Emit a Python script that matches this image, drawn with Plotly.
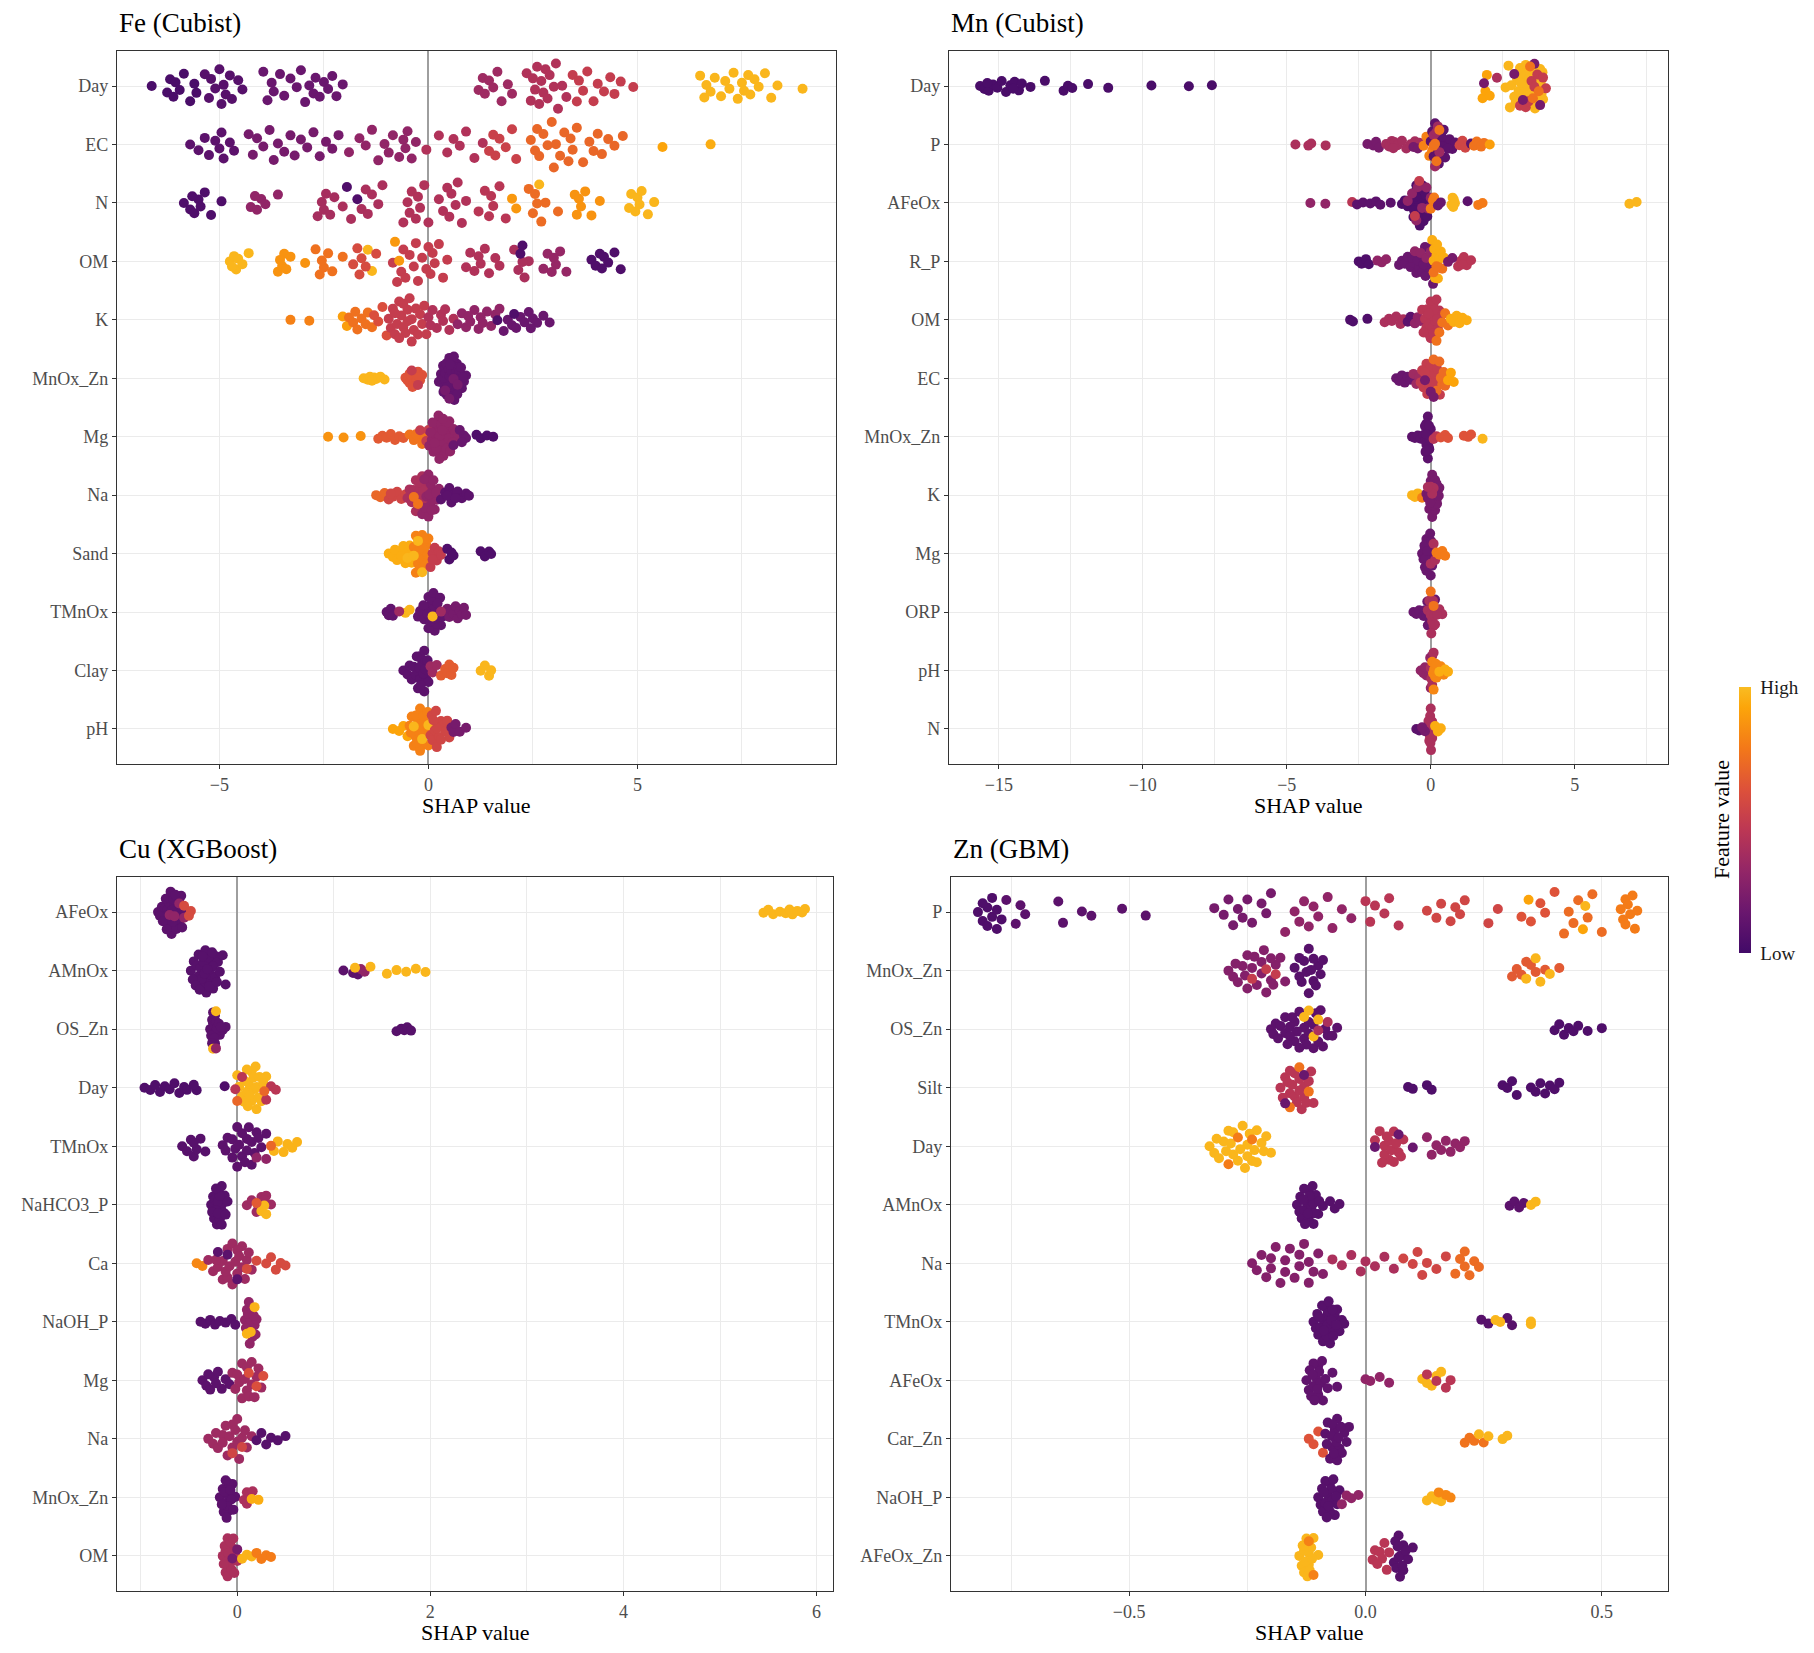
import numpy as np
import plotly.graph_objects as go

FONT = "Liberation Serif"

# SHAP values, grouped by feature value (0 = low, 1 = high)

fe_rows = {
    "Day": [
        (0.03, [-6.62, -6.25, -6.18, -6.05, -5.95, -6.1, -5.85, -5.7, -5.55, -5.6]),
        (0.08, [-5.35, -5.25, -5.1, -5.0, -4.95, -4.85, -4.75, -4.7, -4.55, -4.45, -4.9, -5.2]),
        (0.15, [-3.95, -3.85, -3.75, -3.55, -3.45, -3.7, -3.3, -3.05, -2.95, -2.85, -2.75, -2.6,
                -2.5, -2.4, -2.3, -2.2, -2.05, -2.7, -3.15]),
        (0.35, [1.2, 1.3, 1.35, 1.45, 1.55, 1.65, 1.75, 1.9, 2.0]),
        (0.42, [2.35, 2.45, 2.55, 2.6, 2.65, 2.7, 2.75, 2.8, 2.9, 3.0, 3.05, 3.1, 3.2, 2.5, 2.85, 3.3]),
        (0.5, [3.45, 3.55, 3.6, 3.7, 3.8, 3.95, 4.05, 4.2, 4.35, 4.45, 4.6, 4.9]),
        (0.98, [6.5, 6.6, 6.65, 6.75, 6.85, 7.0, 7.1, 7.2, 7.3, 7.4, 7.5, 7.55, 7.65, 7.8, 7.9,
                8.05, 8.2, 8.35, 8.95, 7.7]),
    ],
    "EC": [
        (0.1, [-5.7, -5.5, -5.35, -5.25, -5.1, -4.95, -4.9, -4.75, -4.65, -5.0]),
        (0.2, [-4.3, -4.1, -3.95, -3.8, -3.6, -3.45, -3.3, -3.2, -3.05, -2.9, -2.75, -2.6, -2.45,
               -2.3, -2.15, -3.7, -4.2]),
        (0.3, [-1.9, -1.65, -1.5, -1.35, -1.2, -0.95, -0.85, -0.7, -0.6, -0.5, -0.4, -0.3, -1.05, -0.55]),
        (0.42, [-0.05, 0.25, 0.45, 0.75, 0.9, 1.1, 1.3, 0.6]),
        (0.52, [1.45, 1.6, 1.7, 1.85, 2.0, 2.1, 1.55]),
        (0.7, [2.45, 2.55, 2.65, 2.75, 2.85, 2.95, 3.05, 3.15, 3.25, 3.35, 3.45, 3.55, 3.7, 3.85,
               3.95, 4.05, 4.15, 4.3, 4.45, 4.65, 2.6, 3.0, 3.4]),
        (0.92, [5.6]),
        (0.95, [6.75]),
    ],
    "N": [
        (0.05, [-5.85, -5.7, -5.6, -5.5, -5.45, -5.35, -5.2, -4.95, -5.65]),
        (0.3, [-4.25, -4.1, -4.0, -3.9, -3.6, -4.15]),
        (0.38, [-2.65, -2.55, -2.5, -2.45, -2.35, -2.25]),
        (0.05, [-1.95, -1.7]),
        (0.4, [-2.05, -1.85, -1.6, -1.5, -1.35, -1.2, -1.1, -1.45]),
        (0.42, [-0.6, -0.5, -0.4, -0.3, -0.2, -0.1, 0.0, -0.45, -0.25,
                0.25, 0.35, 0.45, 0.55, 0.65, 0.8, 0.9, 0.5, 0.7]),
        (0.45, [1.2, 1.35, 1.45, 1.55, 1.7, 1.85, 1.5]),
        (0.88, [2.0, 2.1]),
        (0.72, [2.4, 2.5, 2.55, 2.6, 2.7, 2.8]),
        (0.98, [2.65]),
        (0.72, [3.1]),
        (0.86, [3.5, 3.6, 3.65, 3.75, 3.9, 4.1, 3.55]),
        (0.98, [4.8, 4.85, 4.95, 5.0, 5.1, 5.25, 5.4, 5.05]),
    ],
    "OM": [
        (0.98, [-4.75, -4.65, -4.6, -4.55, -4.45, -4.3, -4.7]),
        (0.86, [-3.6, -3.5, -3.45, -3.4, -3.3, -2.95, -3.55]),
        (0.74, [-2.7, -2.6, -2.5, -2.4, -2.3, -2.05, -2.55]),
        (0.98, [-1.45, -1.35]),
        (0.58, [-1.8, -1.7, -1.6, -1.5, -1.25, -1.65]),
        (0.5, [-0.85, -0.75, -0.65, -0.55, -0.45, -0.35, -0.25, -0.15, -0.05, 0.05, 0.15, 0.25,
               0.35, 0.45, -0.6, -0.3, 0.1, 0.0]),
        (0.88, [-0.8, -0.7]),
        (0.42, [0.9, 1.0, 1.1, 1.2, 1.35, 1.45, 1.6, 1.7, 1.25]),
        (0.4, [2.05, 2.15, 2.3, 2.4, 2.25]),
        (0.05, [2.2, 2.25]),
        (0.32, [2.75, 2.85, 2.95, 3.05, 3.15, 3.3, 3.0]),
        (0.05, [3.9, 4.0, 4.1, 4.2, 4.3, 4.45, 4.6, 4.15]),
    ],
    "K": [
        (0.8, [-3.3, -2.85]),
        (0.9, [-2.05, -1.95]),
        (0.74, [-1.9, -1.8, -1.7, -1.6, -1.5, -1.45, -1.35, -1.75]),
        (0.6, [-1.3, -1.2, -1.1, -1.0]),
        (0.5, [-0.95, -0.9, -0.85, -0.8, -0.75, -0.7, -0.65, -0.6, -0.55, -0.5, -0.45, -0.4, -0.35,
               -0.3, -0.25, -0.2, -0.15, -0.1, -0.05, -0.8, -0.6, -0.4, -0.7, -0.5]),
        (0.42, [0.0, 0.1, 0.2, 0.3, 0.4, 0.5, 0.6, 0.05, 0.35]),
        (0.3, [0.7, 0.8, 0.9, 1.0, 1.1, 1.2, 1.3, 1.4, 1.5, 1.6, 1.7, 0.95, 1.25]),
        (0.15, [1.8, 1.9, 2.0, 2.1, 2.2, 2.3, 2.4, 2.5, 2.6, 2.75, 2.9, 2.45]),
        (0.05, [1.65, 2.05]),
    ],
    "MnOx_Zn": [
        (0.98, [-1.55, -1.45, -1.4, -1.3, -1.25, -1.15, -1.05, -1.35]),
        (0.62, [-0.55, -0.5, -0.45, -0.4, -0.35, -0.3, -0.25, -0.2, -0.15, -0.45, -0.35, -0.3,
                -0.42, -0.38, -0.32, -0.28, -0.22]),
        (0.5, [-0.4, -0.25]),
        (0.12, [0.25, 0.3, 0.35, 0.4, 0.42, 0.45, 0.48, 0.5, 0.52, 0.55, 0.58, 0.6, 0.62, 0.65,
                0.68, 0.7, 0.75, 0.8, 0.85, 0.9, 0.38, 0.47, 0.53, 0.57, 0.63, 0.67, 0.72, 0.44,
                0.5, 0.55, 0.6, 0.46, 0.33, 0.37, 0.41, 0.43, 0.49, 0.51, 0.54, 0.56, 0.59, 0.61,
                0.64, 0.66, 0.69, 0.71, 0.74, 0.78, 0.82, 0.36, 0.52, 0.62]),
        (0.2, [0.4, 0.5, 0.6, 0.7]),
    ],
    "Mg": [
        (0.86, [-2.4, -2.03, -1.62]),
        (0.65, [-1.2, -1.1, -1.0, -0.9, -0.8, -0.7, -0.6]),
        (0.75, [-0.45, -0.35, -0.25, -0.15, -0.1, -0.3]),
        (0.5, [-0.2, -0.05, 0.0]),
        (0.3, [0.02, 0.08, 0.12, 0.16, 0.2, 0.24, 0.28, 0.32, 0.36, 0.4, 0.45, 0.5, 0.55, 0.6,
               0.65, 0.7, 0.1, 0.22, 0.3, 0.38, 0.14, 0.26, 0.34, 0.42, 0.48, 0.58,
               0.05, 0.18, 0.27, 0.33, 0.43, 0.52, 0.15, 0.35]),
        (0.15, [0.6, 0.75, 0.85, 0.9, 0.8]),
        (0.05, [1.15, 1.25, 1.4, 1.55]),
    ],
    "Na": [
        (0.7, [-1.25, -1.15, -1.05]),
        (0.55, [-0.95, -0.85, -0.75, -0.65, -0.55, -0.9]),
        (0.4, [-0.5, -0.45, -0.4, -0.35, -0.3, -0.25, -0.2, -0.15, -0.1, -0.05, -0.3, -0.2,
               -0.22, -0.18, -0.12]),
        (0.3, [0.0, 0.05, 0.1, 0.15, 0.2, 0.25, -0.15, -0.05, 0.05, 0.1, -0.1, 0.0,
               -0.08, 0.02, 0.08, 0.12, 0.18]),
        (0.75, [-0.35, -0.25]),
        (0.1, [0.3, 0.4, 0.5, 0.55, 0.6, 0.7, 0.8, 0.9, 0.97, 0.45, 0.65]),
    ],
    "Sand": [
        (0.95, [-0.95, -0.85, -0.75, -0.7, -0.6, -0.5, -0.45, -0.4, -0.8, -0.65, -0.55]),
        (0.8, [-0.35, -0.3, -0.25, -0.2, -0.15, -0.1, -0.05, 0.0, -0.3, -0.2, -0.1,
               -0.28, -0.22, -0.12, -0.08, -0.02]),
        (0.98, [-0.5, -0.35, -0.25, -0.15]),
        (0.5, [0.05, 0.1, 0.15, 0.2, 0.25, 0.3, 0.1]),
        (0.05, [0.45, 0.5, 0.55, 0.6, 1.25, 1.35, 1.45, 1.5]),
    ],
    "TMnOx": [
        (0.12, [-1.0, -0.95, -0.9, -0.85, -0.25, -0.15, -0.05, 0.0, 0.05, 0.1, 0.15, 0.2, 0.25,
                0.3, 0.35, -0.1, 0.0, 0.1, 0.2, 0.05, 0.15, -0.2,
                -0.12, -0.02, 0.08, 0.12, 0.18, 0.28, 0.22]),
        (0.2, [0.45, 0.5, 0.55, 0.6, 0.65, 0.7, 0.75, 0.8, 0.85, 0.9]),
        (0.98, [-0.55, -0.45, 0.1]),
        (0.35, [-0.7, 0.3]),
    ],
    "Clay": [
        (0.1, [-0.6, -0.5, -0.45, -0.4, -0.3, -0.25, -0.2, -0.15, -0.1, -0.05, 0.0, -0.35, -0.2, -0.1,
               -0.28, -0.22, -0.18, -0.12, -0.08, -0.02]),
        (0.35, [0.05, 0.1, 0.2]),
        (0.66, [0.3, 0.4, 0.45, 0.5, 0.55, 0.6]),
        (0.98, [1.25, 1.35, 1.45, 1.5]),
    ],
    "pH": [
        (0.92, [-0.85, -0.7, -0.6, -0.5]),
        (0.8, [-0.45, -0.4, -0.35, -0.3, -0.25, -0.2, -0.15, -0.1, -0.05, 0.0, -0.3, -0.2, -0.1,
               -0.42, -0.28, -0.22, -0.12, -0.02]),
        (0.98, [-0.35, -0.15, 0.0]),
        (0.55, [0.05, 0.1, 0.15, 0.2, 0.25, 0.3, 0.35, 0.4, 0.45, 0.5, 0.2, 0.3, 0.08, 0.12, 0.18]),
        (0.2, [0.55, 0.6, 0.65, 0.75, 0.9]),
    ],
}

mn_rows = {
    "Day": [
        (0.03, [-15.65, -15.5, -15.35, -15.2, -15.05, -14.9, -14.75, -14.6, -14.45, -14.3, -14.2,
                -13.9, -13.4, -12.75, -12.6, -12.45, -11.9, -11.2, -9.7, -8.4, -7.6, -15.4, -14.5]),
        (0.92, [1.8, 1.9, 1.95, 2.05]),
        (0.4, [2.3]),
        (0.2, [1.85]),
        (0.98, [2.6, 2.7, 2.8, 2.9, 3.0, 3.1, 3.2, 3.3, 3.4, 3.5, 3.6, 3.7, 3.8, 3.9, 2.75, 3.05,
                3.25, 3.45, 3.65, 3.85, 3.15, 3.35, 3.55, 3.75, 3.22, 3.42, 3.62, 3.82, 3.52,
                3.72, 3.32, 3.12, 2.95, 3.88]),
        (0.5, [3.1, 3.3, 3.5, 3.7, 3.9, 4.0, 3.4, 3.6]),
        (0.2, [3.2, 3.6, 3.8, 2.9]),
        (0.75, [3.45, 3.75, 3.55]),
    ],
    "P": [
        (0.4, [-4.7, -4.25, -4.15, -3.65]),
        (0.2, [-2.2, -2.0, -1.9, -1.8]),
        (0.38, [-1.55, -1.45, -1.35, -1.25, -1.15, -1.0, -0.85, -0.7, -0.55, -0.4, -1.3]),
        (0.2, [-0.6, -0.45]),
        (0.8, [-0.25, -0.15, -0.05, 0.05]),
        (0.1, [0.0, 0.1, 0.2, 0.3, 0.35, 0.45, 0.55, 0.65, 0.75, 0.85, 0.4, 0.5, 0.6, 0.25,
               0.05, 0.15, 0.22, 0.28, 0.38]),
        (0.35, [0.1, 0.2, 0.3, 0.15, 0.25]),
        (0.75, [0.1, 0.2, 0.3, 0.15]),
        (0.55, [1.0, 1.1, 1.2]),
        (0.1, [1.4]),
        (0.75, [1.5, 1.6, 1.75, 1.85]),
        (0.9, [2.05]),
    ],
    "AFeOx": [
        (0.3, [-4.18, -3.66]),
        (0.45, [-2.73]),
        (0.1, [-2.56, -2.35, -2.1, -1.9, -1.75, -1.39]),
        (0.05, [-1.0, -0.9, -0.8, -0.7, -0.6, -0.5, -0.45, -0.4, -0.35, -0.3, -0.25, -0.2, -0.15,
                -0.1, -0.6, -0.5, -0.4, -0.3, -0.2, -0.55, -0.35, -0.25, -0.42, -0.38, -0.32,
                -0.28, -0.22, -0.18, -0.12, -0.48, -0.52, -0.58]),
        (0.3, [-0.8, -0.65, -0.45, -0.3, -0.15, 0.0, 0.1, -0.5, -0.1]),
        (0.5, [-0.55, -0.4]),
        (0.78, [0.0, 0.08, 0.12]),
        (0.15, [0.25, 0.35]),
        (0.98, [0.72, 0.76, 0.8, 0.84, 0.78]),
        (0.1, [1.28]),
        (0.78, [1.65, 1.8]),
        (0.98, [6.9, 7.15]),
    ],
    "R_P": [
        (0.05, [-2.5, -2.4, -2.25, -2.15]),
        (0.3, [-1.85, -1.7, -1.55]),
        (0.15, [-1.1, -1.0, -0.9, -0.8, -0.7, -0.6, -0.5, -0.4, -0.3, -0.2, -0.1, -0.05, -0.65,
                -0.45, -0.25, -0.28, -0.18, -0.08, 0.02, 0.08]),
        (0.3, [-0.55, -0.35, -0.15, 0.0]),
        (0.95, [0.05, 0.1, 0.15, 0.2, 0.25, 0.3, 0.35, 0.45, 0.12, 0.22]),
        (0.75, [0.1, 0.3, 0.4, 0.2]),
        (0.45, [0.95, 1.05, 1.15, 1.25, 1.4, 1.1]),
        (0.2, [0.6, 0.75]),
    ],
    "OM": [
        (0.05, [-2.8, -2.7, -2.2]),
        (0.4, [-1.6, -1.45, -1.35, -1.2, -1.05, -0.95]),
        (0.1, [-0.8, -0.7]),
        (0.3, [-0.55, -0.45, -0.35]),
        (0.45, [-0.3, -0.2, -0.1, 0.0, 0.1, 0.2, 0.3, -0.15, -0.05, 0.05, 0.15, 0.25, 0.35,
                -0.25, 0.0, 0.1, -0.12, 0.02, 0.12, 0.22, -0.08]),
        (0.75, [0.2, 0.4, 0.5, 0.6, 0.3]),
        (0.95, [0.7, 0.8, 0.9, 1.0, 1.1, 1.25]),
    ],
    "EC": [
        (0.15, [-1.2, -1.1, -1.0, -0.9, -0.8, -0.7]),
        (0.35, [-0.6, -0.5, -0.4]),
        (0.5, [-0.35, -0.25, -0.15, -0.05, 0.05, 0.15, 0.25, -0.3, -0.1, 0.1, 0.2, 0.0,
               -0.22, -0.12, 0.12, 0.22, 0.32]),
        (0.72, [0.1, 0.2, 0.3, 0.4, 0.5, 0.6, 0.35, 0.45]),
        (0.92, [0.6, 0.7, 0.8]),
        (0.2, [-0.2, 0.0, 0.1]),
    ],
    "MnOx_Zn": [
        (0.1, [-0.65, -0.55, -0.45, -0.35, -0.25, -0.15, -0.1, -0.05, -0.2, -0.12, -0.08, -0.15,
               -0.1, -0.05, 0.0, -0.2, -0.18, -0.14, -0.11, -0.09, -0.06, -0.03, -0.16]),
        (0.45, [0.1, 0.2]),
        (0.62, [0.35, 0.5, 0.6, 1.15, 1.3, 1.4]),
        (0.98, [1.8]),
    ],
    "K": [
        (0.97, [-0.65, -0.55, -0.45]),
        (0.8, [-0.3]),
        (0.2, [-0.15, -0.1, -0.05, 0.0, 0.05, 0.1, 0.15, 0.2, 0.25, 0.3, 0.0, 0.1, 0.2, -0.05,
               0.05, 0.15, 0.02, 0.08, 0.12, 0.18, 0.22, -0.02, 0.28]),
        (0.4, [0.0, 0.1, 0.05, -0.1]),
    ],
    "Mg": [
        (0.15, [-0.3, -0.25, -0.2, -0.15, -0.1, -0.05, 0.0, 0.05, 0.1, -0.2, -0.1, 0.0, -0.15,
                -0.05, 0.05, -0.22, -0.18, -0.12, -0.08, -0.02, 0.02]),
        (0.4, [0.0, 0.1, 0.15]),
        (0.78, [0.2, 0.3, 0.4, 0.5]),
    ],
    "ORP": [
        (0.15, [-0.6, -0.5, -0.4, -0.25, -0.15, -0.05, 0.05, 0.15, -0.2, -0.1, 0.0, -0.12, -0.02]),
        (0.4, [-0.1, 0.0, 0.1, 0.2, 0.3, 0.4, 0.05, 0.15, -0.05, 0.02, 0.08, 0.12, 0.22]),
        (0.75, [0.0, 0.1]),
    ],
    "pH": [
        (0.3, [-0.35, -0.25, -0.15, -0.05, 0.05, -0.1, 0.0, -0.2, -0.02]),
        (0.4, [0.0, 0.1, 0.05, 0.02]),
        (0.82, [0.05, 0.15, 0.25, 0.35, 0.45, 0.1, 0.2, 0.08, 0.12, 0.18]),
        (0.95, [0.5, 0.6, 0.3]),
    ],
    "N": [
        (0.1, [-0.5, -0.4]),
        (0.4, [-0.1, -0.05, 0.0, 0.05, 0.1, -0.05, 0.0, 0.05, -0.1, 0.0, 0.02, -0.02,
               -0.08, -0.03, 0.03, 0.08, 0.01, -0.01]),
        (0.95, [0.15, 0.25, 0.35]),
        (0.2, [-0.2, -0.3]),
    ],
}

cu_rows = {
    "AFeOx": [
        (0.1, [-0.82, -0.78, -0.75, -0.72, -0.7, -0.68, -0.65, -0.62, -0.6, -0.58, -0.55, -0.75,
               -0.7, -0.65, -0.6, -0.68, -0.72, -0.63, -0.8, -0.77, -0.74, -0.71, -0.69, -0.66,
               -0.64, -0.61, -0.59, -0.57, -0.67, -0.73]),
        (0.3, [-0.7, -0.6, -0.55, -0.65]),
        (0.58, [-0.55, -0.5, -0.48]),
        (0.98, [5.45, 5.5, 5.55, 5.62, 5.68, 5.72, 5.75, 5.8, 5.85, 5.88]),
    ],
    "AMnOx": [
        (0.08, [-0.48, -0.45, -0.42, -0.4, -0.38, -0.35, -0.32, -0.3, -0.28, -0.25, -0.22, -0.2,
                -0.15, -0.12, -0.4, -0.35, -0.3, -0.25, -0.33, -0.27, -0.37, -0.46, -0.43, -0.36,
                -0.34, -0.31, -0.29, -0.26, -0.23, -0.21, -0.18, -0.39]),
        (0.1, [1.1, 1.2, 1.25]),
        (0.3, [1.28, 1.32]),
        (0.98, [1.22, 1.38, 1.55, 1.65, 1.75, 1.85, 1.95]),
    ],
    "OS_Zn": [
        (0.1, [-0.28, -0.26, -0.25, -0.24, -0.23, -0.22, -0.2, -0.18, -0.15, -0.12, -0.25, -0.22,
               -0.25, -0.23, -0.27, -0.24, -0.21, -0.19, -0.17, -0.26]),
        (0.98, [-0.25, -0.22]),
        (0.3, [-0.22]),
        (0.08, [1.65, 1.7, 1.73, 1.76, 1.8]),
    ],
    "Day": [
        (0.05, [-0.96, -0.9, -0.85, -0.8, -0.75, -0.7, -0.65, -0.6, -0.55, -0.52, -0.42, -0.45, -0.13]),
        (0.98, [0.0, 0.05, 0.1, 0.15, 0.2, 0.25, 0.3, 0.12, 0.18, 0.08, 0.22, 0.15, 0.1, 0.2,
                0.02, 0.07, 0.13, 0.17, 0.23, 0.27, 0.11, 0.19]),
        (0.45, [-0.02, 0.05, 0.3, 0.35, 0.4]),
        (0.7, [0.0, 0.28]),
    ],
    "TMnOx": [
        (0.08, [-0.57, -0.52, -0.48, -0.45, -0.42, -0.38, -0.33, -0.45]),
        (0.1, [-0.15, -0.1, -0.05, 0.0, 0.05, 0.1, 0.15, 0.2, 0.25, 0.3, -0.05, 0.05, 0.15, 0.0, 0.1,
               -0.12, -0.02, 0.02, 0.08, 0.12, 0.18, 0.22]),
        (0.3, [0.2, 0.3]),
        (0.97, [0.38, 0.42, 0.48, 0.52, 0.57, 0.62]),
        (0.7, [0.35]),
    ],
    "NaHCO3_P": [
        (0.08, [-0.27, -0.25, -0.23, -0.21, -0.19, -0.17, -0.15, -0.13, -0.1, -0.24, -0.2, -0.18,
                -0.14, -0.22, -0.16, -0.26, -0.2, -0.18, -0.16, -0.12, -0.22]),
        (0.35, [0.1, 0.15, 0.2, 0.25, 0.3, 0.35, 0.22, 0.28]),
        (0.98, [0.25, 0.28, 0.3]),
        (0.65, [0.2]),
    ],
    "Ca": [
        (0.82, [-0.42, -0.36]),
        (0.35, [-0.3, -0.25, -0.2, -0.15, -0.1, -0.05, 0.0, 0.05, 0.1, 0.15, -0.15, -0.05, 0.05,
                -0.1, 0.0, -0.22, -0.12, -0.08, -0.02, 0.02, 0.08, 0.12]),
        (0.1, [-0.2, -0.1, 0.0]),
        (0.58, [0.1, 0.2, 0.3, 0.4, 0.45, 0.5, 0.35]),
    ],
    "NaOH_P": [
        (0.08, [-0.38, -0.33, -0.28, -0.23, -0.18, -0.12, -0.06, -0.02]),
        (0.3, [0.08, 0.1, 0.12, 0.14, 0.16, 0.18, 0.2, 0.11, 0.15, 0.09, 0.13, 0.17, 0.19, 0.12]),
        (0.97, [0.1, 0.14, 0.18]),
    ],
    "Mg": [
        (0.1, [-0.36, -0.32, -0.28, -0.24, -0.2, -0.16, -0.12, -0.08, -0.3, -0.22]),
        (0.35, [-0.05, 0.0, 0.05, 0.1, 0.15, 0.2, 0.25, 0.05, 0.1, 0.15,
                -0.02, 0.02, 0.08, 0.12, 0.18, 0.22]),
        (0.6, [0.12, 0.2, 0.27]),
    ],
    "Na": [
        (0.35, [-0.3, -0.25, -0.2, -0.15, -0.1, -0.05, 0.0, 0.05, 0.1, 0.15, -0.15, -0.05, 0.0,
                -0.22, -0.12, -0.08, -0.02, 0.02, 0.08]),
        (0.55, [-0.05, 0.05]),
        (0.08, [0.2, 0.25, 0.3, 0.35, 0.42, 0.5]),
    ],
    "MnOx_Zn": [
        (0.1, [-0.18, -0.15, -0.12, -0.1, -0.08, -0.05, -0.02, -0.14, -0.06, -0.1,
               -0.16, -0.13, -0.11, -0.09, -0.07, -0.04, -0.12]),
        (0.4, [0.07, 0.1, 0.13, 0.16, 0.1]),
        (0.95, [0.15, 0.22]),
    ],
    "OM": [
        (0.4, [-0.15, -0.12, -0.1, -0.08, -0.05, -0.02, 0.0, -0.1, -0.06, -0.12,
               -0.13, -0.11, -0.09, -0.07, -0.04, -0.03, -0.14]),
        (0.2, [-0.05, 0.0]),
        (0.97, [0.05, 0.1, 0.15]),
        (0.78, [0.2, 0.25, 0.3, 0.35]),
    ],
}

zn_rows = {
    "P": [
        (0.05, [-0.82, -0.81, -0.8, -0.79, -0.78, -0.77, -0.8, -0.79, -0.81, -0.78]),
        (0.1, [-0.76, -0.74, -0.73, -0.72, -0.65, -0.64, -0.6, -0.58, -0.515, -0.465]),
        (0.2, [-0.32, -0.3, -0.29, -0.28, -0.26, -0.25, -0.24, -0.22, -0.21, -0.2, -0.27]),
        (0.3, [-0.17, -0.15, -0.14, -0.13, -0.12, -0.1, -0.08, -0.07, -0.05, -0.03, -0.11]),
        (0.45, [0.0, 0.01, 0.02, 0.04, 0.05, 0.07]),
        (0.55, [0.13, 0.15, 0.16, 0.18, 0.19, 0.2, 0.21, 0.26, 0.28]),
        (0.62, [0.33, 0.35, 0.37, 0.38, 0.4]),
        (0.92, [0.345, 0.46]),
        (0.72, [0.42, 0.43, 0.44, 0.45, 0.47, 0.48, 0.5]),
        (0.98, [0.465]),
        (0.78, [0.54, 0.545, 0.55, 0.555, 0.56, 0.565, 0.57, 0.575, 0.55]),
    ],
    "MnOx_Zn": [
        (0.25, [-0.29, -0.28, -0.27, -0.26, -0.25, -0.24, -0.23, -0.22, -0.21, -0.2, -0.19, -0.18,
                -0.17, -0.25, -0.22, -0.2, -0.275, -0.255, -0.235, -0.215, -0.195]),
        (0.5, [-0.24, -0.21, -0.19]),
        (0.08, [-0.15, -0.14, -0.13, -0.12, -0.11, -0.1, -0.09, -0.14, -0.12, -0.11,
                -0.135, -0.125, -0.115, -0.105, -0.095]),
        (0.65, [0.31, 0.32, 0.33, 0.34, 0.35, 0.36, 0.38, 0.41]),
        (0.98, [0.34, 0.36, 0.37, 0.39]),
    ],
    "OS_Zn": [
        (0.1, [-0.2, -0.19, -0.18, -0.17, -0.16, -0.15, -0.14, -0.13, -0.12, -0.11, -0.1, -0.09,
               -0.08, -0.07, -0.06, -0.17, -0.15, -0.13, -0.11, -0.195, -0.185, -0.165, -0.155,
               -0.145, -0.125, -0.105, -0.095, -0.085, -0.16, -0.14, -0.12]),
        (0.98, [-0.13, -0.12, -0.11, -0.1]),
        (0.4, [-0.1, -0.08]),
        (0.05, [0.4, 0.41, 0.42, 0.43, 0.44, 0.45, 0.47, 0.5]),
    ],
    "Silt": [
        (0.45, [-0.18, -0.17, -0.16, -0.15, -0.14, -0.13, -0.12, -0.11, -0.15, -0.13,
                -0.175, -0.165, -0.155, -0.145, -0.135, -0.125, -0.115, -0.14, -0.16]),
        (0.75, [-0.16, -0.14, -0.12]),
        (0.15, [-0.17, -0.13]),
        (0.05, [0.09, 0.1, 0.13, 0.14, 0.29, 0.3, 0.31, 0.32, 0.35, 0.36, 0.37, 0.38, 0.39, 0.4, 0.41]),
    ],
    "Day": [
        (0.98, [-0.33, -0.32, -0.31, -0.3, -0.29, -0.28, -0.27, -0.26, -0.25, -0.24, -0.23, -0.22,
                -0.21, -0.2, -0.28, -0.25, -0.23, -0.315, -0.295, -0.285, -0.265, -0.255, -0.245,
                -0.235, -0.215]),
        (0.78, [-0.29, -0.27, -0.24]),
        (0.45, [0.02, 0.03, 0.04, 0.05, 0.06, 0.07, 0.08, 0.04, 0.06, 0.05,
                0.035, 0.045, 0.055, 0.065, 0.075]),
        (0.15, [0.02, 0.07, 0.1]),
        (0.3, [0.13, 0.14, 0.15, 0.16, 0.17, 0.18, 0.19, 0.2, 0.21]),
    ],
    "AMnOx": [
        (0.08, [-0.145, -0.14, -0.135, -0.13, -0.125, -0.12, -0.115, -0.11, -0.105, -0.1, -0.09,
                -0.13, -0.12, -0.11, -0.075, -0.065, -0.055, -0.138, -0.128, -0.118, -0.108,
                -0.098, -0.122, -0.112, -0.132]),
        (0.1, [0.305, 0.315, 0.325, 0.335]),
        (0.98, [0.35, 0.36]),
    ],
    "Na": [
        (0.25, [-0.24, -0.23, -0.22, -0.21, -0.2, -0.19, -0.18, -0.17, -0.16, -0.15, -0.14, -0.13,
                -0.12, -0.11, -0.1, -0.09, -0.2, -0.17, -0.14, -0.12]),
        (0.4, [-0.07, -0.05, -0.03, -0.01, 0.0, 0.02, 0.04, 0.06]),
        (0.55, [0.08, 0.1, 0.11, 0.12, 0.13, 0.15, 0.17]),
        (0.72, [0.19, 0.2, 0.21, 0.22, 0.23, 0.24, 0.21]),
    ],
    "TMnOx": [
        (0.08, [-0.11, -0.105, -0.1, -0.095, -0.09, -0.085, -0.08, -0.075, -0.07, -0.065, -0.06,
                -0.055, -0.05, -0.045, -0.09, -0.08, -0.07, -0.102, -0.092, -0.082, -0.072,
                -0.062, -0.098, -0.088, -0.078, -0.068]),
        (0.08, [0.245, 0.26, 0.3, 0.31]),
        (0.98, [0.275, 0.285, 0.35, 0.35]),
    ],
    "AFeOx": [
        (0.12, [-0.125, -0.12, -0.115, -0.11, -0.105, -0.1, -0.095, -0.09, -0.085, -0.08, -0.07,
                -0.06, -0.1, -0.11, -0.118, -0.108, -0.098, -0.112, -0.102, -0.092]),
        (0.3, [0.0, 0.01, 0.03, 0.05]),
        (0.98, [0.12, 0.13, 0.14, 0.15, 0.16]),
        (0.45, [0.13, 0.15, 0.17, 0.18]),
    ],
    "Car_Zn": [
        (0.62, [-0.12, -0.11, -0.1, -0.09]),
        (0.1, [-0.085, -0.08, -0.075, -0.07, -0.065, -0.06, -0.055, -0.05, -0.045, -0.04, -0.035,
               -0.07, -0.06, -0.082, -0.072, -0.062, -0.052, -0.067, -0.057]),
        (0.75, [0.21, 0.22, 0.23, 0.25]),
        (0.98, [0.24, 0.26, 0.29, 0.3]),
    ],
    "NaOH_P": [
        (0.08, [-0.1, -0.095, -0.09, -0.085, -0.08, -0.075, -0.07, -0.065, -0.06, -0.055, -0.085,
                -0.075, -0.092, -0.082, -0.072, -0.062, -0.088, -0.078, -0.068]),
        (0.3, [-0.05, -0.04, -0.03, -0.015]),
        (0.98, [0.13, 0.14, 0.15, 0.16]),
        (0.82, [0.17, 0.18, 0.155]),
    ],
    "AFeOx_Zn": [
        (0.98, [-0.14, -0.135, -0.13, -0.125, -0.12, -0.115, -0.11, -0.1, -0.13, -0.12,
                -0.133, -0.128, -0.123, -0.118, -0.113]),
        (0.8, [-0.12, -0.11]),
        (0.45, [0.015, 0.02, 0.03, 0.04, 0.05, 0.035, 0.025, 0.045]),
        (0.08, [0.06, 0.065, 0.07, 0.075, 0.08, 0.09, 0.1, 0.07, 0.08,
                0.063, 0.068, 0.073, 0.078, 0.085]),
    ],
}

# inferno, trimmed to roughly 0.2 - 0.85
colorscale = [
    [0.0, "#420A68"], [0.154, "#6A176E"], [0.308, "#932667"], [0.462, "#BC3754"],
    [0.615, "#DD513A"], [0.769, "#F37819"], [0.923, "#FCA50A"], [1.0, "#F9BC22"],
]


def van_der_corput(n, base=2):
    seq = []
    for i in range(1, n + 1):
        v, denom, k = 0.0, 1.0, i
        while k:
            k, r = divmod(k, base)
            denom *= base
            v += r / denom
        seq.append(v)
    return np.array(seq)


def quasi_offsets(x, width=0.4, adjust=0.5):
    # quasirandom layout like ggbeeswarm: van der Corput on ranks, scaled by density
    x = np.asarray(x, dtype=float)
    n = len(x)
    sd = x.std(ddof=1)
    iqr = np.subtract(*np.percentile(x, [75, 25]))
    spread = min(sd, iqr / 1.34) if iqr > 0 else sd
    bw = 0.9 * spread * n ** -0.2 * adjust
    dens = np.exp(-0.5 * ((x[:, None] - x[None, :]) / bw) ** 2).sum(axis=1)
    dens = dens / dens.max()
    ranks = np.empty(n, dtype=int)
    ranks[np.argsort(x, kind="stable")] = np.arange(n)
    v = (van_der_corput(n) - 0.5) * 2
    return v[ranks] * dens * width


# the page body has an 8px margin, so place everything relative to it
PAD = 8
W, H = 1814 - 2 * PAD, 1653 - 2 * PAD


def px(x):
    return (x - PAD) / W


def py(y):
    return (H - (y - PAD)) / H


panels = [
    # title, rows, x range, dtick, minor, tickformat, x px, y px (top, bottom)
    ("Fe (Cubist)", fe_rows, [-7.45, 9.75], 5, 2.5, None, (117, 836), (51, 764)),
    ("Mn (Cubist)", mn_rows, [-16.73, 8.24], 5, 2.5, None, (949, 1668), (51, 764)),
    ("Cu (XGBoost)", cu_rows, [-1.245, 6.17], 2, 1, None, (117, 833), (877, 1591)),
    ("Zn (GBM)", zn_rows, [-0.877, 0.64], 0.5, 0.25, ".1f", (951, 1668), (877, 1591)),
]

fig = go.Figure()
annotations = []

for k, (title, rows, xr, dtick, minor, tfmt, (xl, xrgt), (yt, yb)) in enumerate(panels):
    sfx = "" if k == 0 else str(k + 1)
    nrow = len(rows)
    xs, ys, cs = [], [], []
    for i, (feat, groups) in enumerate(rows.items()):
        vals = np.concatenate([np.array(g[1], dtype=float) for g in groups])
        fvs = np.concatenate([np.full(len(g[1]), g[0]) for g in groups])
        offs = quasi_offsets(vals)
        xs.append(vals)
        ys.append((nrow - i) + offs)
        cs.append(fvs)
    fig.add_trace(go.Scatter(
        x=np.concatenate(xs),
        y=np.concatenate(ys),
        mode="markers",
        marker=dict(size=10, color=np.concatenate(cs), coloraxis="coloraxis", line=dict(width=0)),
        xaxis="x" + sfx,
        yaxis="y" + sfx,
        showlegend=False,
        hoverinfo="x",
    ))

    axis_common = dict(
        showline=True, mirror=True, linecolor="#333333", linewidth=1.2,
        ticks="outside", ticklen=4, tickwidth=1.2, tickcolor="#333333",
        tickfont=dict(family=FONT, size=18, color="#4D4D4D"),
        gridcolor="#EBEBEB", gridwidth=1.3,
    )
    fig.update_layout({
        "xaxis" + sfx: dict(
            axis_common, domain=[px(xl), px(xrgt)], anchor="y" + sfx, range=xr,
            tick0=0, dtick=dtick, tickformat=tfmt,
            minor=dict(tick0=0, dtick=minor, showgrid=True, gridcolor="#EBEBEB", gridwidth=0.8),
            zeroline=True, zerolinecolor="#9E9E9E", zerolinewidth=1.8,
        ),
        "yaxis" + sfx: dict(
            axis_common, domain=[py(yb), py(yt)], anchor="x" + sfx,
            range=[0.4, nrow + 0.6], tickvals=list(range(nrow, 0, -1)),
            ticktext=list(rows.keys()), zeroline=False,
        ),
    })
    annotations.append(dict(
        text=title, x=px(xl), y=py(yt - 28), xref="paper", yref="paper",
        xanchor="left", yanchor="middle", showarrow=False,
        font=dict(family=FONT, size=27, color="black"),
    ))
    annotations.append(dict(
        text="SHAP value", x=px((xl + xrgt) / 2), y=py(yb + 41), xref="paper", yref="paper",
        xanchor="center", yanchor="middle", showarrow=False,
        font=dict(family=FONT, size=22, color="black"),
    ))

annotations.append(dict(
    text="Feature value", x=px(1721), y=py(820), xref="paper", yref="paper",
    xanchor="center", yanchor="middle", showarrow=False, textangle=-90,
    font=dict(family=FONT, size=22, color="black"),
))

fig.update_layout(
    width=W, height=H,
    margin=dict(l=0, r=0, t=0, b=0),
    paper_bgcolor="white", plot_bgcolor="white",
    font=dict(family=FONT),
    coloraxis=dict(
        cmin=0, cmax=1, colorscale=colorscale,
        colorbar=dict(
            x=px(1739), xanchor="left", y=py(820), yanchor="middle",
            len=266 / H, lenmode="fraction", thickness=12, outlinewidth=0,
            xpad=0, ypad=0,
            tickvals=[0, 1], ticktext=["Low", "High"], ticks="outside", ticklen=6,
            tickcolor="rgba(0,0,0,0)", tickfont=dict(family=FONT, size=19, color="#1A1A1A"),
        ),
    ),
    annotations=annotations,
)

fig.write_html("out.html")
